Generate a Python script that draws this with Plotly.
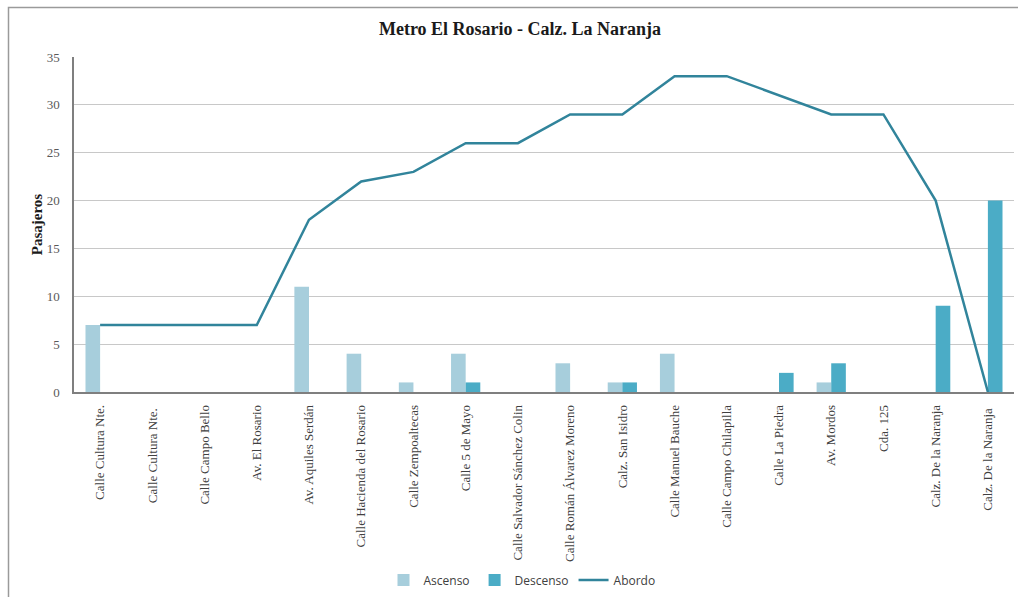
import plotly.graph_objects as go

paradas = [
    "Calle Cultura Nte.", "Calle Cultura Nte. ", "Calle Campo Bello", "Av. El Rosario",
    "Av. Aquiles Serdán", "Calle Hacienda del Rosario", "Calle Zempoaltecas",
    "Calle 5 de Mayo", "Calle Salvador Sánchez Colin", "Calle Román Álvarez Moreno",
    "Calz. San Isidro", "Calle Manuel Bauche", "Calle Campo Chilapilla",
    "Calle La Piedra", "Av. Mordos", "Cda. 125", "Calz. De la Naranja",
    "Calz. De la Naranja ",
]
ascenso = [7, 0, 0, 0, 11, 4, 1, 4, 0, 3, 1, 4, 0, 0, 1, 0, 0, 0]
descenso = [0, 0, 0, 0, 0, 0, 0, 1, 0, 0, 1, 0, 0, 2, 3, 0, 9, 20]
abordo = [7, 7, 7, 7, 18, 22, 23, 26, 26, 29, 29, 33, 33, 31, 29, 29, 20, 0]
y_ticks = [0, 5, 10, 15, 20, 25, 30, 35]

W, H = 1018, 597
L, R, T, B = 74, 4, 57, 205

fig = go.Figure()
fig.add_trace(go.Bar(x=paradas, y=ascenso, name="Ascenso",
                     marker=dict(color="#a7cedc", line=dict(width=0))))
fig.add_trace(go.Bar(x=paradas, y=descenso, name="Descenso",
                     marker=dict(color="#4bacc6", line=dict(width=0))))
fig.add_trace(go.Scatter(x=paradas, y=abordo, name="Abordo", mode="lines",
                         line=dict(color="#31849b", width=2.5)))

plot_w = W - L - R
legend_x = (522 - L) / plot_w

fig.update_layout(
    width=W, height=H,
    margin=dict(l=L, r=R, t=T, b=B, autoexpand=False),
    paper_bgcolor="white", plot_bgcolor="white",
    barmode="group", bargap=0.44, bargroupgap=0,
    title=dict(text="<b>Metro El Rosario - Calz. La Naranja</b>",
               x=520 / W, xanchor="center", y=1 - 29 / H, yanchor="middle",
               font=dict(family="Liberation Serif", size=18, color="#1a1a1a")),
    font=dict(family="Liberation Serif", color="#404040"),
    showlegend=True,
    legend=dict(orientation="h", x=legend_x, xanchor="center",
                y=-(580 - 392) / (H - T - B), yanchor="middle",
                font=dict(family="Open Sans", size=12, color="#404040"),
                itemwidth=30, bgcolor="rgba(0,0,0,0)"),
    xaxis=dict(tickangle=-90, tickfont=dict(family="Liberation Serif", size=13, color="#404040"),
               showline=True, linecolor="#7f7f7f", linewidth=1.5, ticks="",
               showgrid=False, automargin=False, ticklabelstandoff=6),
    yaxis=dict(range=[0, 35], tickvals=y_ticks,
               tickfont=dict(family="Liberation Serif", size=13, color="#595959"),
               showline=True, linecolor="#7f7f7f", linewidth=1.5, ticks="",
               gridcolor="#c8c8c8", gridwidth=1, zeroline=False, automargin=False,
               ticklabelstandoff=10,
               title=dict(text="<b>Pasajeros</b>", standoff=0,
                          font=dict(family="Liberation Serif", size=15, color="#1a1a1a"))),
    shapes=[dict(type="rect", xref="paper", yref="paper",
                 x0=-(L - 8.5) / plot_w, x1=1 + 20 / plot_w,
                 y0=-(B + 20) / (H - T - B), y1=1 + (T - 7.5) / (H - T - B),
                 line=dict(color="#9a9a9a", width=1.5), fillcolor="rgba(0,0,0,0)",
                 layer="below")],
)

fig.write_html("out.html")
